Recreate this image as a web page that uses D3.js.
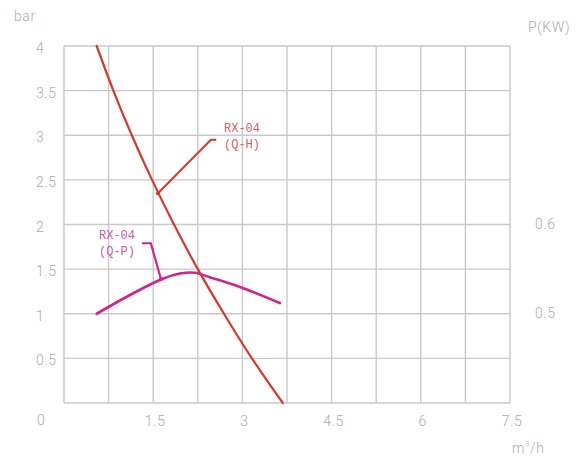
<!DOCTYPE html>
<html><head><meta charset="utf-8">
<script src="https://cdn.jsdelivr.net/npm/d3@7"></script>
<style>html,body{margin:0;padding:0;background:#fff}</style>
</head><body>
<script>
// ---- data ----
const flowTicks = [1.5, 3, 4.5, 6, 7.5];           // m³/h
const headTicks = [0.5, 1, 1.5, 2, 2.5, 3, 3.5, 4]; // bar
const powerTicks = [0.5, 0.6];                       // kW
const qhFlow = [0.55, 0.83, 1.14, 1.48, 1.85, 2.25, 2.69, 3.16, 3.68];
const qhHead = [4.0, 3.5, 3.0, 2.5, 2.0, 1.5, 1.0, 0.5, 0.0];
const qpFlow = [0.55, 1.11, 1.65, 1.95, 2.2, 2.45, 2.96, 3.63];
const qpPower = [0.500, 0.521, 0.539, 0.545, 0.546, 0.541, 0.530, 0.512];
const qhLabel = ["RX-04", "(Q-H)"];
const qpLabel = ["RX-04", "(Q-P)"];

const W = 586, H = 461;
const svg = d3.select("body").append("svg").attr("width", W).attr("height", H);
const m = {l: 64, r: 510, t: 46, b: 403};
const x = d3.scaleLinear().domain([0, 7.5]).range([m.l, m.r]);
const y = d3.scaleLinear().domain([0, 4]).range([m.b, m.t]);
const yp = d3.scaleLinear().domain([0.4, 0.8]).range([m.b, m.t]);

const gridC = "#c9c9c9", txtC = "#ababab";
const font = "Roboto, 'DejaVu Sans', sans-serif";

// grid
const g = svg.append("g");
g.selectAll("line.v").data(d3.range(0, 7.5001, 0.75)).join("line")
  .attr("x1", d => x(d)).attr("x2", d => x(d)).attr("y1", m.t).attr("y2", m.b)
  .attr("stroke", gridC).attr("stroke-width", 1.4);
g.selectAll("line.h").data(d3.range(0, 4.0001, 0.5)).join("line")
  .attr("x1", m.l).attr("x2", m.r).attr("y1", d => y(d)).attr("y2", d => y(d))
  .attr("stroke", gridC).attr("stroke-width", 1.4);

const txt = (s, px, py, anchor) => svg.append("text").text(s).attr("x", px).attr("y", py)
  .attr("text-anchor", anchor || "start").attr("dominant-baseline", "central")
  .attr("font-family", font).attr("font-weight", 300).attr("font-size", 14)
  .attr("letter-spacing", "0.6px").attr("fill", txtC);

// left axis labels
headTicks.forEach(d => txt(String(d), 36, y(d) + 2));
txt("0", 37, 420);
txt("bar", 14, 16);
// bottom labels
flowTicks.forEach(d => txt(String(d), x(d) + 2, 421, "middle"));
const u = txt("m", 512, 448);
u.append("tspan").text("3").attr("font-size", 8).attr("dy", -5);
u.append("tspan").text("/h").attr("dy", 5);
// right axis
powerTicks.forEach(d => txt(String(d), 535, yp(d) - 1));
txt("P(KW)", 528, 27);

// curves
const line = d3.line().curve(d3.curveCatmullRom.alpha(0.5));
const qhPts = qhFlow.map((q, i) => [x(q), y(qhHead[i])]);
const qpPts = qpFlow.map((q, i) => [x(q), yp(qpPower[i])]);
const redC = "#d23a2c", magC = "#d3228c";
svg.append("path").attr("d", line(qpPts)).attr("fill", "none").attr("stroke", magC).attr("stroke-width", 2.6).attr("stroke-linecap", "round");
svg.append("path").attr("d", line(qhPts)).attr("fill", "none").attr("stroke", redC).attr("stroke-width", 2.2).attr("stroke-linecap", "round");

// annotations (leader anchors in data units)
const qhLead = [[1.58, 2.35], [2.47, 2.95], [2.56, 2.95]];
svg.append("path").attr("d", d3.line()(qhLead.map(p => [x(p[0]), y(p[1])])))
  .attr("fill", "none").attr("stroke", redC).attr("stroke-width", 2);
svg.append("circle").attr("cx", x(1.58)).attr("cy", y(2.35)).attr("r", 2).attr("fill", redC);
const qpLead = [[1.63, 1.39], [1.46, 1.79], [1.31, 1.79]];
svg.append("path").attr("d", d3.line()(qpLead.map(p => [x(p[0]), y(p[1])])))
  .attr("fill", "none").attr("stroke", magC).attr("stroke-width", 2.2);
svg.append("circle").attr("cx", x(1.63)).attr("cy", y(1.39)).attr("r", 2).attr("fill", magC);

const lab = (arr, px, py, col) => arr.forEach((s, i) => svg.append("text").text(s)
  .attr("x", px).attr("y", py + i * 16).attr("text-anchor", "middle").attr("dominant-baseline", "central")
  .attr("font-family", "'Liberation Mono', 'DejaVu Sans Mono', monospace").attr("font-size", 12)
  .attr("fill", col));
lab(qhLabel, 242, 129, "#d4605c");
lab(qpLabel, 117, 236, "#c85aa2");
</script>
</body></html>
